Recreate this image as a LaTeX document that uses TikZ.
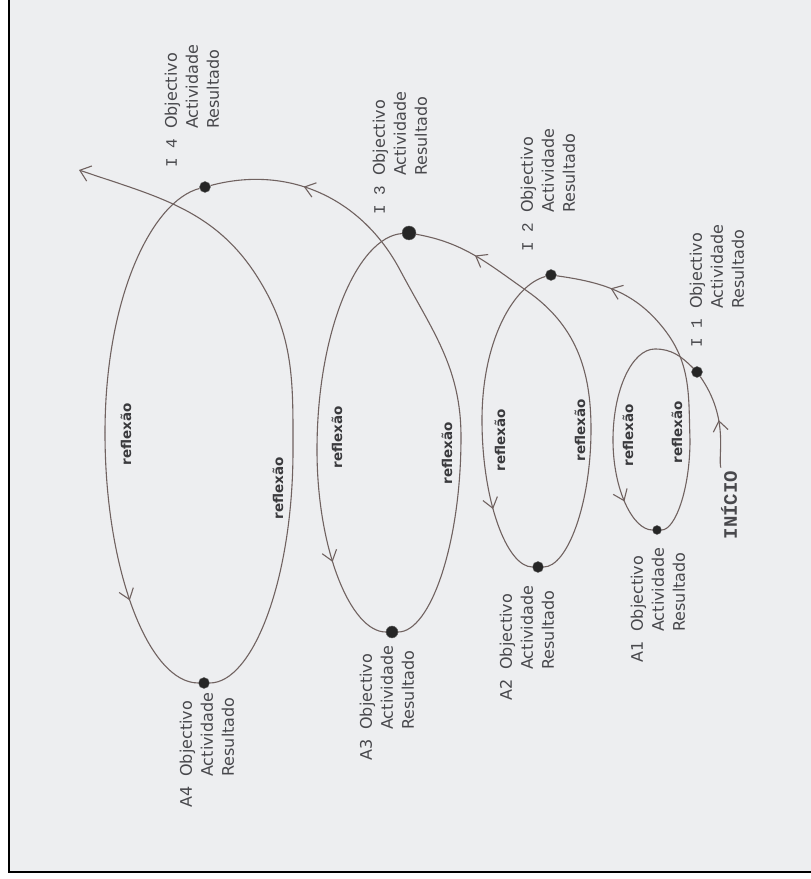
\documentclass[tikz,border=0pt]{standalone}
\usepackage{fontspec}
\setmainfont{DejaVu Sans}
\newfontfamily\monof{Liberation Mono}
\usetikzlibrary{arrows.meta,decorations.markings}
\definecolor{fundo}{RGB}{237,238,240}
\definecolor{traco}{RGB}{112,98,96}
\definecolor{texto}{RGB}{72,72,76}
\newcommand{\ciclo}[1]{{\monof\fontsize{16}{21}\selectfont #1}}
\newcommand{\etapa}[1]{\begin{tabular}{@{}l@{\hspace{10pt}}l@{}}#1 & Objectivo\\ & Actividade\\ & Resultado\end{tabular}}
\tikzset{
x=1pt,y=1pt,
line cap=round,
ponto/.style={circle,fill=black!85,draw=black!60,inner sep=0pt,minimum size=11pt},
linha/.style={draw=traco,line width=1.1pt},
seta/.style={postaction={decorate,decoration={markings,mark=at position #1 with {\arrow{Straight Barb[length=10pt,width=15pt]}}}}},
seta/.default=0.5,
passo/.style={rotate=90,anchor=north west,inner sep=0pt,text=texto,font=\fontsize{16}{21}\selectfont},
refl/.style={rotate=90,inner sep=0pt,text=texto!80!black,font=\bfseries\fontsize{13.5}{16}\selectfont}
}

\begin{document}
\begin{tikzpicture}
\useasboundingbox (0,0) rectangle (811,879);
\fill[white] (0,0) rectangle (811,879);
\fill[fundo] (9,7) rectangle (811,879);
\draw[black,line width=2pt] (9,879) -- (9,7) -- (811,7);

% pontos de cada ciclo
\node[ponto] (I1) at (697,507) {};
\node[ponto,minimum size=9pt] (A1) at (657,349) {};
\node[ponto] (I2) at (551,604) {};
\node[ponto] (A2) at (538,312) {};
\node[ponto,minimum size=14pt] (I3) at (409,646) {};
\node[ponto,minimum size=12pt] (A3) at (392,247) {};
\node[ponto] (I4) at (205,692) {};
\node[ponto] (A4) at (204,196) {};

\coordinate (t1) at (655,530);
\coordinate (e1) at (613,439);
\coordinate (d1) at (690,439);
\coordinate (x1) at (664,550);
\coordinate (e2) at (482,459);
\coordinate (d2) at (591,450);
\coordinate (x2) at (527,588);
\coordinate (e3) at (317,429);
\coordinate (d3) at (461,442);
\coordinate (x3) at (400,609);
\coordinate (e4) at (105,446);
\coordinate (d4) at (293,429);
\coordinate (x4) at (258,601);
\coordinate (fim) at (79,709);

\node[rotate=90,inner sep=3pt,text=texto,font=\monof\bfseries\fontsize{19}{22}\selectfont] (inicio) at (729,374) {INÍCIO};

\draw[linha,seta=0.5] (inicio) to[out=90,in=-55] (I1);
\draw[linha] (I1) to[out=135,in=0] (t1) .. controls +(-23,0) and +(0,50) .. (e1);
\draw[linha,seta=0.6] (e1) .. controls +(0,-50) and +(-24,0) .. (A1);
\draw[linha] (A1) .. controls +(18,0) and +(0,-50) .. (d1) to[out=92,in=-52] (x1);
\draw[linha,seta=0.55] (x1) to[out=128,in=-8] (I2);

\draw[linha] (I2) .. controls +(-37,-10) and +(0,80) .. (e2);
\draw[linha,seta=0.55] (e2) .. controls +(0,-81) and +(-31,0) .. (A2);
\draw[linha] (A2) .. controls +(29,0) and +(0,-76) .. (d2) to[out=90,in=-35] (x2);
\draw[linha,seta=0.5] (x2) to[out=145,in=-10] (I3);

\draw[linha] (I3) .. controls +(-51,-4) and +(0,120) .. (e3);
\draw[linha,seta=0.55] (e3) .. controls +(0,-100) and +(-41,0) .. (A3);
\draw[linha] (A3) .. controls +(38,0) and +(0,-108) .. (d3) to[out=90,in=-62] (x3);
\draw[linha,seta=0.58] (x3) to[out=118,in=15] (I4);

\draw[linha] (I4) .. controls +(-53,-14) and +(0,136) .. (e4);
\draw[linha,seta=0.6] (e4) .. controls +(0,-138) and +(-55,0) .. (A4);
\draw[linha] (A4) .. controls +(49,0) and +(0,-129) .. (d4) to[out=90,in=-58] (x4);
\draw[linha,-{Straight Barb[length=10pt,width=16pt]}] (x4) to[out=122,in=-19] (fim);

\node[refl] (r1e) at (628,444) {reflexão};
\node[refl] (r1d) at (677,447) {reflexão};
\node[refl] (r2e) at (500,439) {reflexão};
\node[refl] (r2d) at (580,449) {reflexão};
\node[refl] (r3e) at (337,442) {reflexão};
\node[refl] (r3d) at (447,426) {reflexão};
\node[refl] (r4e) at (126,445) {reflexão};
\node[refl] (r4d) at (278,391) {reflexão};

\node[passo] (tI1) at (687,531) {\etapa{\ciclo{I 1}}};
\node[passo] (tI2) at (518,627) {\etapa{\ciclo{I 2}}};
\node[passo] (tI3) at (370,664) {\etapa{\ciclo{I 3}}};
\node[passo] (tI4) at (162,711) {\etapa{\ciclo{I 4}}};
\node[passo] (tA1) at (628,216) {\etapa{A1}};
\node[passo] (tA2) at (497,178) {\etapa{A2}};
\node[passo] (tA3) at (357,118) {\etapa{A3}};
\node[passo] (tA4) at (177,71) {\etapa{A4}};
\end{tikzpicture}
\end{document}
